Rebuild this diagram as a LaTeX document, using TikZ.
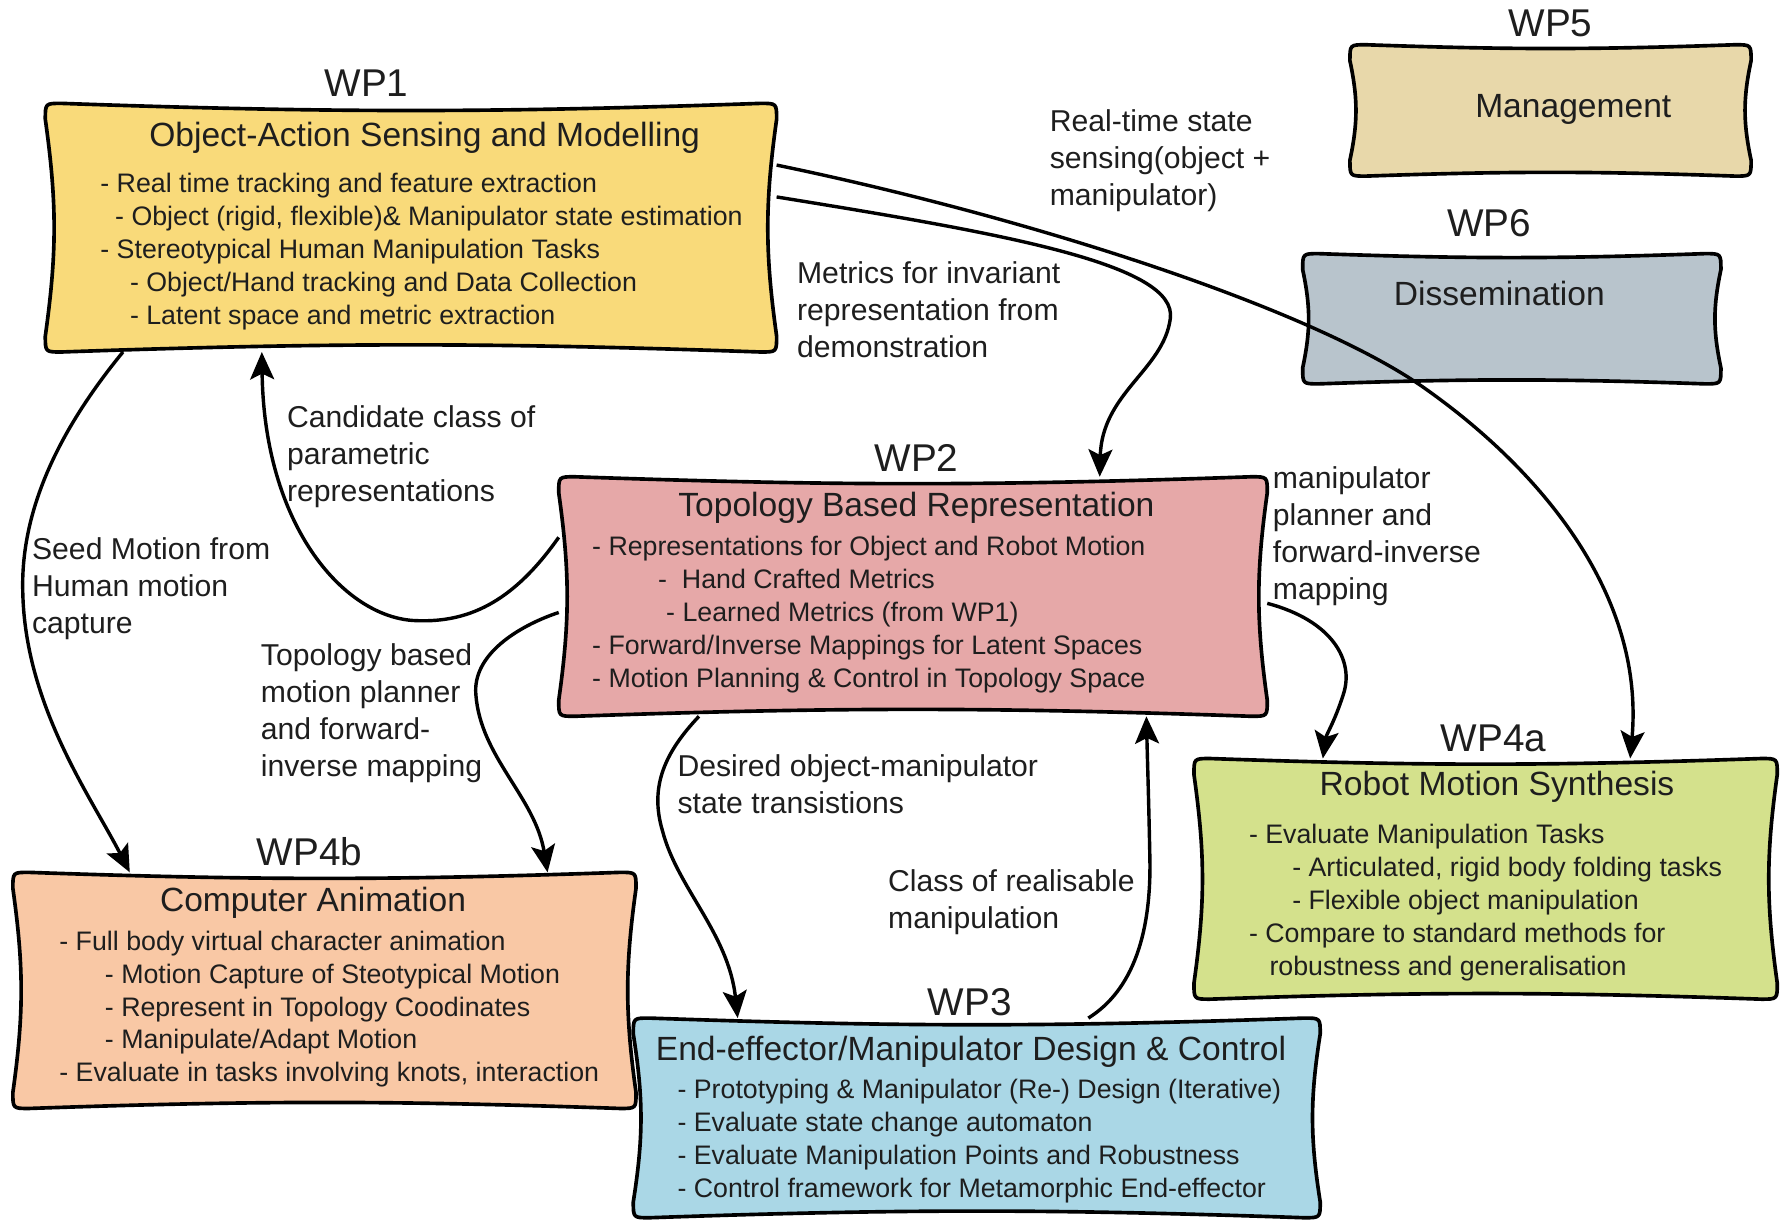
\documentclass[tikz,border=0pt]{standalone}
\usepackage{fontspec}
\setmainfont{Liberation Sans}
\usetikzlibrary{arrows.meta,calc}
\definecolor{cwpa}{HTML}{F9DA7A}
\definecolor{cwpb}{HTML}{E6A8A8}
\definecolor{cwpc}{HTML}{AAD7E6}
\definecolor{cwpd}{HTML}{D4E18C}
\definecolor{cwpe}{HTML}{F9C8A5}
\definecolor{cwpf}{HTML}{E8D8AA}
\definecolor{cwpg}{HTML}{B8C4CC}
\definecolor{ink}{HTML}{1E1E1E}
\tikzset{
  area/.style={rectangle, inner sep=0pt},
  outline/.style={line width=3.2pt, draw=black, line join=round},
  wplabel/.style={inner sep=0pt, anchor=base, text=ink, font=\fontsize{34}{40}\selectfont},
  boxtitle/.style={inner sep=0pt, anchor=base, text=ink, font=\fontsize{29.5}{35}\selectfont},
  bodyline/.style={inner sep=0pt, anchor=base west, text=ink, font=\fontsize{23.5}{29}\selectfont},
  conlabel/.style={inner sep=0pt, anchor=north west, align=left, text=ink, font=\fontsize{26.5}{32.5}\selectfont},
  conn/.style={line width=3pt, draw=black, -{Stealth[length=24pt, width=21pt, inset=5pt]}},
}
\newcommand{\wobble}[4]{%
  \draw[outline, fill=#2]
    ($(#1.north west)+(14,0)$) to[bend right=#3] ($(#1.north east)+(-14,0)$)
    .. controls (#1.north east) .. ($(#1.north east)+(0,14)$)
    to[bend right=#4] ($(#1.south east)+(0,-14)$)
    .. controls (#1.south east) .. ($(#1.south east)+(-14,0)$)
    to[bend right=#3] ($(#1.south west)+(14,0)$)
    .. controls (#1.south west) .. ($(#1.south west)+(0,-14)$)
    to[bend right=#4] ($(#1.north west)+(0,14)$)
    .. controls (#1.north west) .. ($(#1.north west)+(14,0)$) -- cycle;}
\begin{document}
\begin{tikzpicture}[x=1pt, y=-1pt]
\useasboundingbox (0,0) rectangle (1568,1074);
\fill[white] (0,0) rectangle (1568,1074);

% ---------- box areas ----------
\node[area, minimum width=642pt, minimum height=218pt] (wp1) at (361,200) {};
\node[area, minimum width=352pt, minimum height=115pt] (wp5) at (1362,97) {};
\node[area, minimum width=367pt, minimum height=114pt] (wp6) at (1328,280) {};
\node[area, minimum width=622pt, minimum height=210pt] (wp2) at (802,524) {};
\node[area, minimum width=547pt, minimum height=207pt] (wp4b) at (285,870) {};
\node[area, minimum width=603pt, minimum height=175pt] (wp3) at (858,982) {};
\node[area, minimum width=512pt, minimum height=211pt] (wp4a) at (1305,772) {};

\wobble{wp1}{cwpa}{2}{8}
\wobble{wp5}{cwpf}{2}{12}
\wobble{wp6}{cwpg}{2}{12}
\wobble{wp2}{cwpb}{2}{8}
\wobble{wp4b}{cwpe}{2}{8}
\wobble{wp3}{cwpc}{2}{9}
\wobble{wp4a}{cwpd}{2}{8}

% ---------- WP labels ----------
\node[wplabel] (l1) at (322,85) {WP1};
\node[wplabel] (l2) at (805,414) {WP2};
\node[wplabel] (l3) at (852,892) {WP3};
\node[wplabel] (l4a) at (1312,660) {WP4a};
\node[wplabel] (l4b) at (272,760) {WP4b};
\node[wplabel] (l5) at (1362,32) {WP5};
\node[wplabel] (l6) at (1308,208) {WP6};

% ---------- titles ----------
\node[boxtitle] (t1) at (373,128.5) {Object-Action Sensing and Modelling};
\node[boxtitle] (t2) at (805,453.5) {Topology Based Representation};
\node[boxtitle] (t3) at (853,931.5) {End-effector/Manipulator Design \& Control};
\node[boxtitle] (t4a) at (1315,698.5) {Robot Motion Synthesis};
\node[boxtitle] (t4b) at (275,800.5) {Computer Animation};
\node[boxtitle] (t5) at (1382,103.5) {Management};
\node[boxtitle] (t6) at (1317,268.5) {Dissemination};

% ---------- WP1 body ----------
\node[bodyline] (a1) at (88,169) {- Real time tracking and feature extraction};
\node[bodyline] (a2) at (101,198) {- Object (rigid, flexible)\& Manipulator state estimation};
\node[bodyline] (a3) at (88,227) {- Stereotypical Human Manipulation Tasks};
\node[bodyline] (a4) at (114,256) {- Object/Hand tracking and Data Collection};
\node[bodyline] (a5) at (114,285) {- Latent space and metric extraction};

% ---------- WP2 body ----------
\node[bodyline] (b1) at (520,488) {- Representations for Object and Robot Motion};
\node[bodyline] (b2) at (578,517) {-\ \ Hand Crafted Metrics};
\node[bodyline] (b3) at (585,546) {- Learned Metrics (from WP1)};
\node[bodyline] (b4) at (520,575) {- Forward/Inverse Mappings for Latent Spaces};
\node[bodyline] (b5) at (520,604) {- Motion Planning \& Control in Topology Space};

% ---------- WP3 body ----------
\node[bodyline] (c1) at (595,965) {- Prototyping \& Manipulator (Re-) Design (Iterative)};
\node[bodyline] (c2) at (595,994) {- Evaluate state change automaton};
\node[bodyline] (c3) at (595,1023) {- Evaluate Manipulation Points and Robustness};
\node[bodyline] (c4) at (595,1052) {- Control framework for Metamorphic End-effector};

% ---------- WP4a body ----------
\node[bodyline] (d1) at (1097,741) {- Evaluate Manipulation Tasks};
\node[bodyline] (d2) at (1135,770) {- Articulated, rigid body folding tasks};
\node[bodyline] (d3) at (1135,799) {- Flexible object manipulation};
\node[bodyline] (d4) at (1097,828) {- Compare to standard methods for};
\node[bodyline] (d5) at (1115,857) {robustness and generalisation};

% ---------- WP4b body ----------
\node[bodyline] (e1) at (52,835) {- Full body virtual character animation};
\node[bodyline] (e2) at (92,864) {- Motion Capture of Steotypical Motion};
\node[bodyline] (e3) at (92,893) {- Represent in Topology Coodinates};
\node[bodyline] (e4) at (92,921) {- Manipulate/Adapt Motion};
\node[bodyline] (e5) at (52,950) {- Evaluate in tasks involving knots, interaction};

% ---------- connector labels ----------
\node[conlabel] (m1) at (922,96) {Real-time state\\sensing(object +\\manipulator)};
\node[conlabel] (m2) at (700,230) {Metrics for invariant\\representation from\\demonstration};
\node[conlabel] (m3) at (252,356) {Candidate class of\\parametric\\representations};
\node[conlabel] (m4) at (28,472) {Seed Motion from\\Human motion\\capture};
\node[conlabel] (m5) at (229,565) {Topology based\\motion planner\\and forward-\\inverse mapping};
\node[conlabel] (m6) at (1118,410) {manipulator\\planner and\\forward-inverse\\mapping};
\node[conlabel] (m7) at (595,663) {Desired object-manipulator\\state transistions};
\node[conlabel] (m8) at (780,764) {Class of realisable\\manipulation};

% ---------- connectors ----------
% WP1 -> WP4a (real-time state)
\draw[conn] (wp1.east |- 0,145) .. controls (900,190) and (1150,270) .. (1250,340)
  .. controls (1350,410) and (1445,520) .. (wp4a.north -| 1432,0);
% WP1 -> WP2 (metrics)
\draw[conn] (wp1.east |- 0,173) .. controls (880,205) and (1035,232) .. (1028,280)
  .. controls (1022,325) and (968,345) .. (wp2.north -| 966,0);
% WP2 -> WP1 (candidate)
\draw[conn] (wp2.west |- 0,472) .. controls (450,530) and (410,548) .. (362,545)
  .. controls (300,540) and (232,460) .. (wp1.south -| 230,0);
% WP1 -> WP4b (seed)
\draw[conn] (wp1.south -| 108,0) .. controls (50,380) and (18,450) .. (20,520)
  .. controls (22,620) and (80,700) .. (wp4b.north -| 114,0);
% WP2 -> WP4b (topology)
\draw[conn] (wp2.west |- 0,538) .. controls (455,550) and (415,575) .. (418,610)
  .. controls (422,665) and (470,700) .. (wp4b.north -| 481,0);
% WP2 -> WP3 (desired)
\draw[conn] (wp2.south -| 614,0) .. controls (585,660) and (570,690) .. (582,730)
  .. controls (595,780) and (640,820) .. (wp3.north -| 648,0);
% WP3 -> WP2 (class)
\draw[conn] (wp3.north -| 956,0) .. controls (995,870) and (1012,820) .. (1010,750)
  .. controls (1009,700) and (1008,670) .. (wp2.south -| 1007,0);
% WP2 -> WP4a (manipulator planner)
\draw[conn] (wp2.east |- 0,530) .. controls (1170,545) and (1190,580) .. (1180,610)
  .. controls (1172,635) and (1165,645) .. (wp4a.north -| 1162,0);
\end{tikzpicture}
\end{document}
